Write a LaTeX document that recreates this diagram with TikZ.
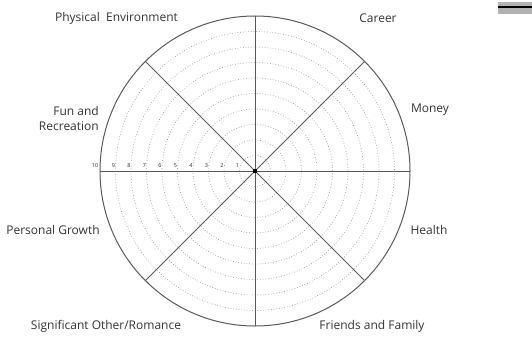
\documentclass[tikz,border=0pt]{standalone}
\usepackage{fontspec}
\setmainfont{Open Sans}
\begin{document}
\begin{tikzpicture}[x=1pt,y=-1pt,
  lbl/.style={font=\fontsize{12}{15}\selectfont, text=black!80, inner sep=0pt},
  num/.style={font=\fontsize{5.5}{6}\selectfont, text=black!85, inner sep=0pt},
  spoke/.style={draw=black!65, line width=0.9pt},
  ring/.style={draw=black!40, dotted, line width=0.7pt},
  rim/.style={draw=black!65, line width=1pt}]
\useasboundingbox (0,0) rectangle (532,337);
\coordinate (c) at (255,171);
% dotted rings
\foreach \k in {1,...,9} { \draw[ring] (c) circle ({15.5*\k}); }
% spokes
\foreach \a in {0,45,...,315} { \draw[spoke] (c) -- ++(\a:155); }
\draw[rim] (c) circle (155);
\fill[black] (253,169) rectangle (257,173);
% numbers
\foreach \k in {1,...,9} { \node[num] (n\k) at ({255-15.5*\k-2},166) {\k}; }
\node[num] (n10) at (95,166) {10};
% labels
\node[lbl] (pe) at (116.5,18) {Physical\ \ Environment};
\node[lbl] (ca) at (378,18) {Career};
\node[lbl] (mo) at (430,110) {Money};
\node[lbl] (he) at (429,230) {Health};
\node[lbl] (ff) at (372,326) {Friends and Family};
\node[lbl] (so) at (106,326) {Significant Other/Romance};
\node[lbl] (pg) at (53,230) {Personal Growth};
\node[lbl, align=right, anchor=east] (fr) at (99,118.5) {Fun and\\Recreation};
% corner bar
\fill[black!30] (498,2) rectangle (532,14);
\fill[black] (498,5.8) rectangle (532,7.8);
\end{tikzpicture}
\end{document}
